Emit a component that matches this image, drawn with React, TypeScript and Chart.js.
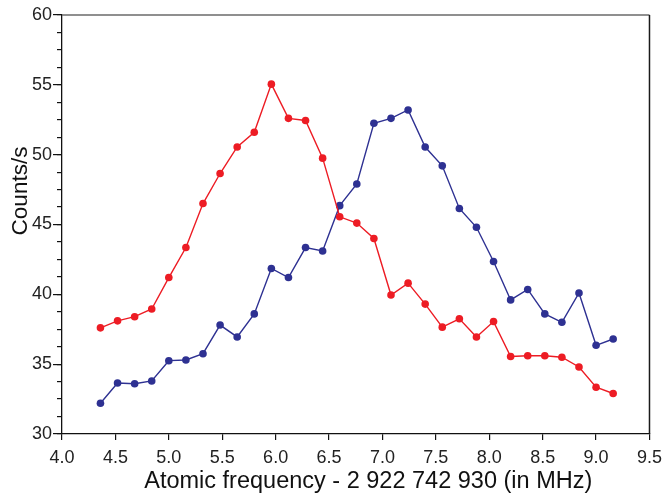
import React, { useEffect, useRef } from "react";
import { Chart, registerables } from "chart.js";

Chart.register(...registerables);

const FREQ = [
  4.36, 4.52, 4.68, 4.84, 5.0, 5.16, 5.32, 5.48, 5.64, 5.8, 5.96, 6.12, 6.28, 6.44, 6.6, 6.76,
  6.92, 7.08, 7.24, 7.4, 7.56, 7.72, 7.88, 8.04, 8.2, 8.36, 8.52, 8.68, 8.84, 9.0, 9.16,
];
const RED_COUNTS = [
  37.6, 38.1, 38.4, 38.95, 41.2, 43.35, 46.5, 48.65, 50.55, 51.6, 55.05, 52.6, 52.45, 49.75,
  45.55, 45.1, 44.0, 39.95, 40.8, 39.3, 37.65, 38.25, 36.95, 38.05, 35.55, 35.6, 35.6, 35.5,
  34.8, 33.35, 32.9,
];
const BLUE_COUNTS = [
  32.2, 33.65, 33.6, 33.8, 35.25, 35.3, 35.75, 37.8, 36.95, 38.6, 41.85, 41.2, 43.35, 43.1,
  46.35, 47.9, 52.25, 52.6, 53.2, 50.55, 49.2, 46.15, 44.8, 42.35, 39.6, 40.35, 38.6, 38.0,
  40.1, 36.35, 36.8,
];
const X_TICK_STEP = 0.5;
const Y_TICK_STEP = 5;
const Y_MINOR_STEP = 1.25;
const X_TITLE = "Atomic frequency - 2 922 742 930 (in MHz)";
const Y_TITLE = "Counts/s";

const RED = "#ED1C24";
const BLUE = "#2E3192";
const FONT = "'Liberation Sans', Arial, Helvetica, sans-serif";

export default function App() {
  const ref = useRef<HTMLCanvasElement>(null);

  useEffect(() => {
    if (!ref.current) return;
    const frame = {
      id: "frameAndTitles",
      afterDraw(chart: any) {
        const { ctx, chartArea } = chart;
        const { left, right, top, bottom } = chartArea;
        ctx.save();
        ctx.lineWidth = 1.5;
        ctx.strokeStyle = "#6a6a6a";
        ctx.beginPath();
        ctx.moveTo(left, top);
        ctx.lineTo(right, top);
        ctx.stroke();
        ctx.strokeStyle = "#1a1a1a";
        ctx.beginPath();
        ctx.moveTo(right, top);
        ctx.lineTo(right, bottom);
        ctx.stroke();
        ctx.fillStyle = "#111";
        ctx.font = `23.5px ${FONT}`;
        ctx.textAlign = "center";
        ctx.textBaseline = "alphabetic";
        ctx.fillText(X_TITLE, (left + right) / 2 + 12.5, 488);
        ctx.font = `22.5px ${FONT}`;
        ctx.translate(26.5, 191);
        ctx.rotate(-Math.PI / 2);
        ctx.fillText(Y_TITLE, 0, 0);
        ctx.restore();
      },
    };

    const mk = (ys: number[]) => FREQ.map((x, i) => ({ x, y: ys[i] }));

    const chart = new Chart(ref.current, {
      type: "line",
      data: {
        datasets: [
          {
            label: "red",
            data: mk(RED_COUNTS),
            borderColor: RED,
            backgroundColor: RED,
            pointBackgroundColor: RED,
            pointBorderColor: RED,
            borderWidth: 1.4,
            pointRadius: 3.8,
            pointBorderWidth: 0,
            tension: 0,
          },
          {
            label: "blue",
            data: mk(BLUE_COUNTS),
            borderColor: BLUE,
            backgroundColor: BLUE,
            pointBackgroundColor: BLUE,
            pointBorderColor: BLUE,
            borderWidth: 1.4,
            pointRadius: 3.8,
            pointBorderWidth: 0,
            tension: 0,
          },
        ],
      },
      options: {
        responsive: false,
        animation: false,
        events: [],
        layout: { padding: { left: 0, top: 15, right: 14, bottom: 0 } },
        plugins: { legend: { display: false }, tooltip: { enabled: false } },
        scales: {
          x: {
            type: "linear",
            position: "bottom",
            min: 4,
            max: 9.5,
            ticks: {
              stepSize: X_TICK_STEP,
              callback: (v: any) => Number(v).toFixed(1),
              font: { family: FONT, size: 18 },
              color: "#222",
              padding: 7,
              maxRotation: 0,
              autoSkip: false,
            },
            grid: { drawOnChartArea: false, tickLength: 6, color: "#111", lineWidth: 1.2 },
            border: { color: "#111", width: 1.3 },
            afterFit: (s: any) => {
              s.height = 63;
            },
          },
          y: {
            type: "linear",
            position: "left",
            weight: 1,
            min: 30,
            max: 60,
            ticks: {
              stepSize: Y_TICK_STEP,
              font: { family: FONT, size: 18 },
              color: "#222",
              padding: 1,
            },
            grid: { drawOnChartArea: false, tickLength: 9, color: "#111", lineWidth: 1.2 },
            border: { color: "#111", width: 1.3 },
            afterFit: (s: any) => {
              s.width = 62;
            },
          },
          yMinor: {
            type: "linear",
            position: "left",
            weight: 0,
            min: 30,
            max: 60,
            ticks: { stepSize: Y_MINOR_STEP, display: false },
            grid: { drawOnChartArea: false, tickLength: 5, color: "#111", lineWidth: 1.2 },
            border: { display: false },
            afterFit: (s: any) => {
              s.width = 0;
            },
          },
        },
      },
      plugins: [frame],
    } as any);
    return () => chart.destroy();
  }, []);

  return (
    <div style={{ position: "absolute", left: 0, top: 0, width: 669, height: 497, background: "#fff" }}>
      <canvas ref={ref} width={669} height={497} />
    </div>
  );
}
